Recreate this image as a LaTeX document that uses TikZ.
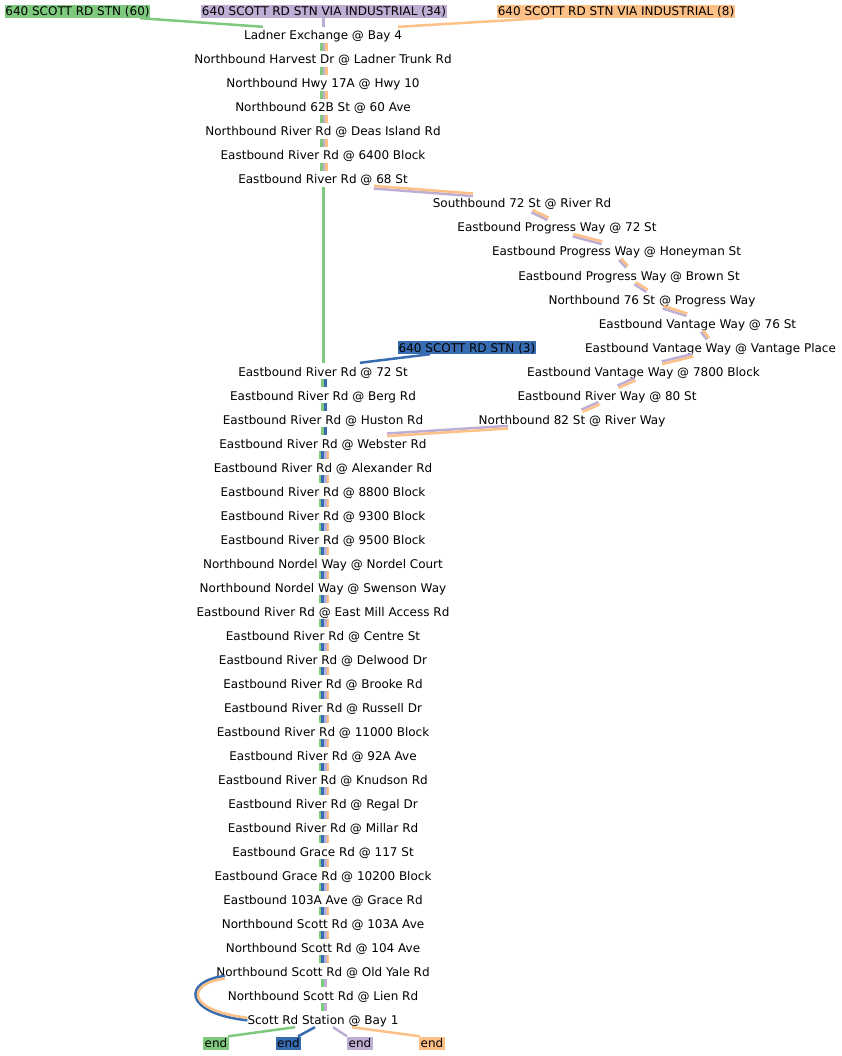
\documentclass[tikz,border=0pt]{standalone}
\usepackage{fontspec}
\setmainfont{DejaVu Sans}
\usetikzlibrary{calc}
\definecolor{rgreen}{HTML}{7FC97F}
\definecolor{rblue}{HTML}{386CB0}
\definecolor{rpurple}{HTML}{BEAED4}
\definecolor{rorange}{HTML}{FDC086}
% #1 source node, #2 target node, #3/#4 x shifts of anchors, #5 colour/offset list
\newcommand\routeedge[5]{%
  \foreach \rtcol/\rtoff in {#5}{%
    \draw[route,\rtcol]
      ($([xshift=#3pt]#1.south)!\rtoff pt!90:([xshift=#4pt]#2.north)$) --
      ($([xshift=#4pt]#2.north)!\rtoff pt!-90:([xshift=#3pt]#1.south)$);}}
\begin{document}
\begin{tikzpicture}[x=1pt,y=-1pt,
  stop/.style={font=\fontsize{12pt}{14pt}\selectfont, inner sep=0pt,
    minimum height=16pt, text height=11.5pt, text depth=1.5pt},
  rlabel/.style={font=\fontsize{12pt}{14pt}\selectfont, inner xsep=0.5pt,
    inner ysep=0.5pt, text height=10.5pt, text depth=1.5pt},
  endbox/.style={font=\fontsize{12pt}{14pt}\selectfont, inner xsep=1.5pt,
    inner ysep=0.5pt, text height=10.5pt, text depth=1.5pt},
  route/.style={line width=2.5pt}]
\useasboundingbox (0,0) rectangle (842,1056);

% route start labels
\node[rlabel,fill=rgreen]  (sg) at (77.5,11.5) {640 SCOTT RD STN (60)};
\node[rlabel,fill=rpurple] (sp) at (324,11.5) {640 SCOTT RD STN VIA INDUSTRIAL (34)};
\node[rlabel,fill=rorange] (so) at (616,11.5) {640 SCOTT RD STN VIA INDUSTRIAL (8)};
\node[rlabel,fill=rblue]   (sb) at (467,347.5) {640 SCOTT RD STN (3)};

% main column stops
\foreach \k/\t in {
 0/Ladner Exchange @ Bay 4,
 1/Northbound Harvest Dr @ Ladner Trunk Rd,
 2/Northbound Hwy 17A @ Hwy 10,
 3/Northbound 62B St @ 60 Ave,
 4/Northbound River Rd @ Deas Island Rd,
 5/Eastbound River Rd @ 6400 Block,
 6/Eastbound River Rd @ 68 St,
 14/Eastbound River Rd @ 72 St,
 15/Eastbound River Rd @ Berg Rd,
 16/Eastbound River Rd @ Huston Rd,
 17/Eastbound River Rd @ Webster Rd,
 18/Eastbound River Rd @ Alexander Rd,
 19/Eastbound River Rd @ 8800 Block,
 20/Eastbound River Rd @ 9300 Block,
 21/Eastbound River Rd @ 9500 Block,
 22/Northbound Nordel Way @ Nordel Court,
 23/Northbound Nordel Way @ Swenson Way,
 24/Eastbound River Rd @ East Mill Access Rd,
 25/Eastbound River Rd @ Centre St,
 26/Eastbound River Rd @ Delwood Dr,
 27/Eastbound River Rd @ Brooke Rd,
 28/Eastbound River Rd @ Russell Dr,
 29/Eastbound River Rd @ 11000 Block,
 30/Eastbound River Rd @ 92A Ave,
 31/Eastbound River Rd @ Knudson Rd,
 32/Eastbound River Rd @ Regal Dr,
 33/Eastbound River Rd @ Millar Rd,
 34/Eastbound Grace Rd @ 117 St,
 35/Eastbound Grace Rd @ 10200 Block,
 36/Eastbound 103A Ave @ Grace Rd,
 37/Northbound Scott Rd @ 103A Ave,
 38/Northbound Scott Rd @ 104 Ave,
 39/Northbound Scott Rd @ Old Yale Rd,
 40/Northbound Scott Rd @ Lien Rd,
 41/Scott Rd Station @ Bay 1}
 \node[stop] (m\k) at (323,{35+24*\k}) {\t};

% branch stops
\node[stop] (b7)  at (522,203)   {Southbound 72 St @ River Rd};
\node[stop] (b8)  at (557,227)   {Eastbound Progress Way @ 72 St};
\node[stop] (b9)  at (616.5,251) {Eastbound Progress Way @ Honeyman St};
\node[stop] (b10) at (629,275)   {Eastbound Progress Way @ Brown St};
\node[stop] (b11) at (652,299)   {Northbound 76 St @ Progress Way};
\node[stop] (b12) at (697.5,323) {Eastbound Vantage Way @ 76 St};
\node[stop] (b13) at (710.5,347) {Eastbound Vantage Way @ Vantage Place};
\node[stop] (b14) at (643.5,371) {Eastbound Vantage Way @ 7800 Block};
\node[stop] (b15) at (607,395)   {Eastbound River Way @ 80 St};
\node[stop] (b16) at (572,419)   {Northbound 82 St @ River Way};

% end boxes
\node[endbox,fill=rgreen]  (eg) at (216,1043)   {end};
\node[endbox,fill=rblue]   (eb) at (288.5,1043) {end};
\node[endbox,fill=rpurple] (ep) at (360,1043)   {end};
\node[endbox,fill=rorange] (eo) at (432,1043)   {end};

% start connectors
\routeedge{sg}{m0}{62.5}{-60}{rgreen/0}
\routeedge{sp}{m0}{-0.5}{0.5}{rpurple/0}
\routeedge{so}{m0}{-73}{75}{rorange/0}
\routeedge{sb}{m14}{-37}{37}{rblue/0}

% upper trunk
\foreach \k in {0,...,5}{\pgfmathtruncatemacro\kn{\k+1}%
  \routeedge{m\k}{m\kn}{1}{1}{rgreen/-2.6,rpurple/0,rorange/2.6}}
\routeedge{m6}{m14}{0.5}{0.5}{rgreen/0}

% branch
\routeedge{m6}{b7}{51}{-49}{rpurple/-1.3,rorange/1.3}
\routeedge{b7}{b8}{10}{-9}{rpurple/-1.3,rorange/1.3}
\routeedge{b8}{b9}{16}{-14.5}{rpurple/-1.3,rorange/1.3}
\routeedge{b9}{b10}{3.5}{-2}{rpurple/-1.3,rorange/1.3}
\routeedge{b10}{b11}{6}{-5}{rpurple/-1.3,rorange/1.3}
\routeedge{b11}{b12}{11}{-10.5}{rpurple/-1.3,rorange/1.3}
\routeedge{b12}{b13}{4.5}{-2.5}{rpurple/-1.3,rorange/1.3}
\routeedge{b13}{b14}{-17.5}{18.5}{rpurple/-1.3,rorange/1.3}
\routeedge{b14}{b15}{-8.5}{11}{rpurple/-1.3,rorange/1.3}
\routeedge{b15}{b16}{-8}{10}{rpurple/-1.3,rorange/1.3}
\routeedge{b16}{m17}{-64}{64}{rpurple/-1.3,rorange/1.3}

% lower trunk
\foreach \k in {14,15,16}{\pgfmathtruncatemacro\kn{\k+1}%
  \routeedge{m\k}{m\kn}{1}{1}{rgreen/-1.3,rblue/1.3}}
\foreach \k in {17,...,38}{\pgfmathtruncatemacro\kn{\k+1}%
  \routeedge{m\k}{m\kn}{1}{1}{rgreen/-3.9,rblue/-1.3,rpurple/1.3,rorange/3.9}}
\routeedge{m39}{m40}{1}{1}{rgreen/-1.3,rpurple/1.3}
\routeedge{m40}{m41}{1}{1}{rgreen/-1.3,rpurple/1.3}

% loop from Old Yale Rd to Scott Rd Station
\coordinate (cy) at ([xshift=-98pt,yshift=2pt]m39.south);
\draw[route,rblue] ([yshift=1.3pt]cy) .. controls +(-42.7,5) and +(-64.7,-7) .. ([yshift=-1.3pt]m41.west);
\draw[route,rorange] ([yshift=-1.3pt]cy) .. controls +(-39.3,5) and +(-61.3,-7) .. ([yshift=1.3pt]m41.west);

% to the ends
\routeedge{m41}{eg}{-28}{12}{rgreen/0}
\routeedge{m41}{eb}{-8}{9.5}{rblue/0}
\routeedge{m41}{ep}{10}{-13}{rpurple/0}
\routeedge{m41}{eo}{29}{-12}{rorange/0}
\end{tikzpicture}
\end{document}
